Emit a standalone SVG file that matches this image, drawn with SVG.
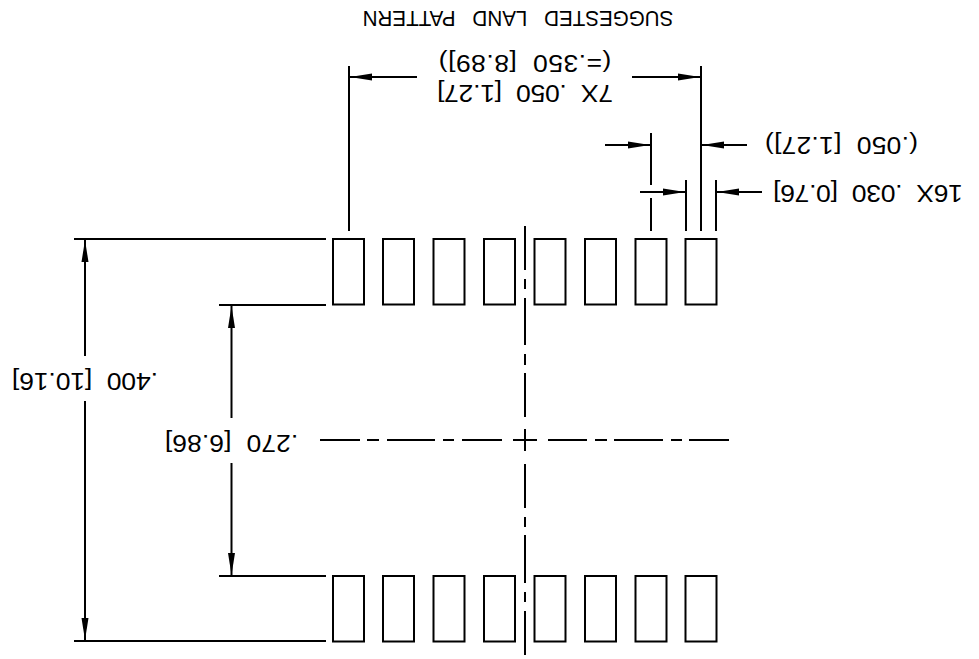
<svg xmlns="http://www.w3.org/2000/svg" width="979" height="659" viewBox="0 0 979 659">
<style>
.l{stroke:#000;stroke-width:2;fill:none}
.p{stroke:#000;stroke-width:2;fill:#fff}
.t{font-family:"Liberation Sans",Arial,sans-serif;font-size:23px;fill:#000;text-anchor:middle;white-space:pre}
.h{font-family:"Liberation Sans",Arial,sans-serif;font-size:22px;fill:#000;text-anchor:middle;word-spacing:12px}
</style>
<defs>
<marker id="a" markerUnits="userSpaceOnUse" markerWidth="22" markerHeight="8" refX="22" refY="4" orient="auto"><path d="M0 0.5L22 4L0 7.5Z" fill="#000"/></marker>
</defs>
<rect width="979" height="659" fill="#fff"/>
<g id="connectors">
<path class="l" d="M349 66V231M701 66V231M651 133V185M651 198V231M686 180V231M716 180V231"/>
<path class="l" d="M417 77H350" marker-end="url(#a)"/>
<path class="l" d="M632 77H700" marker-end="url(#a)"/>
<path class="l" d="M605 145H650" marker-end="url(#a)"/>
<path class="l" d="M747 145H702" marker-end="url(#a)"/>
<path class="l" d="M640 192H685" marker-end="url(#a)"/>
<path class="l" d="M762 192H717" marker-end="url(#a)"/>
<path class="l" d="M74 239H326M74 641H326M219 305H326M219 576H326"/>
<path class="l" d="M85 356V240" marker-end="url(#a)"/>
<path class="l" d="M85 401V640" marker-end="url(#a)"/>
<path class="l" d="M231.500 418V306" marker-end="url(#a)"/>
<path class="l" d="M231.500 463V575" marker-end="url(#a)"/>
<path class="l" d="M525 226V270M525 279V289M525 298V345M525 354V365M525 373V417M525 429V451M525 464V508M525 517V527M525 535V583M525 592V602M525 611V655"/>
<path class="l" d="M320 440H360M367 440H379M387 440H435M443 440H454M462 440H502M513 440H537M548 440H587M595 440H607M614 440H663M671 440H682M689 440H729"/>
</g>
<g id="pads-top">
<rect class="p" x="333" y="239" width="31" height="65.500"/>
<rect class="p" x="383" y="239" width="31" height="65.500"/>
<rect class="p" x="433.500" y="239" width="31" height="65.500"/>
<rect class="p" x="484" y="239" width="31" height="65.500"/>
<rect class="p" x="534.500" y="239" width="31" height="65.500"/>
<rect class="p" x="585" y="239" width="31" height="65.500"/>
<rect class="p" x="635.500" y="239" width="31" height="65.500"/>
<rect class="p" x="685.500" y="239" width="31" height="65.500"/>
</g>
<g id="pads-bottom">
<rect class="p" x="333" y="576" width="31" height="65.500"/>
<rect class="p" x="383" y="576" width="31" height="65.500"/>
<rect class="p" x="433.500" y="576" width="31" height="65.500"/>
<rect class="p" x="484" y="576" width="31" height="65.500"/>
<rect class="p" x="534.500" y="576" width="31" height="65.500"/>
<rect class="p" x="585" y="576" width="31" height="65.500"/>
<rect class="p" x="635.500" y="576" width="31" height="65.500"/>
<rect class="p" x="685.500" y="576" width="31" height="65.500"/>
</g>
<g id="labels">
<text class="h" transform="translate(518,10.500) rotate(180) scale(0.935,1)">SUGGESTED LAND PATTERN</text>
<text class="t" transform="translate(525,55) rotate(180) scale(1.15,1)" textLength="150">(=.350  [8.89])</text>
<text class="t" transform="translate(525,85) rotate(180) scale(1.15,1)" textLength="153">7X  .050  [1.27]</text>
<text class="t" transform="translate(841.500,137) rotate(180) scale(1.15,1)" textLength="133">(.050  [1.27])</text>
<text class="t" transform="translate(868,185) rotate(180) scale(1.15,1)" textLength="165">16X  .030  [0.76]</text>
<text class="t" transform="translate(85,373) rotate(180) scale(1.15,1)" textLength="127">.400  [10.16]</text>
<text class="t" transform="translate(231.500,435) rotate(180) scale(1.15,1)" textLength="116">.270  [6.86]</text>
</g>
</svg>
